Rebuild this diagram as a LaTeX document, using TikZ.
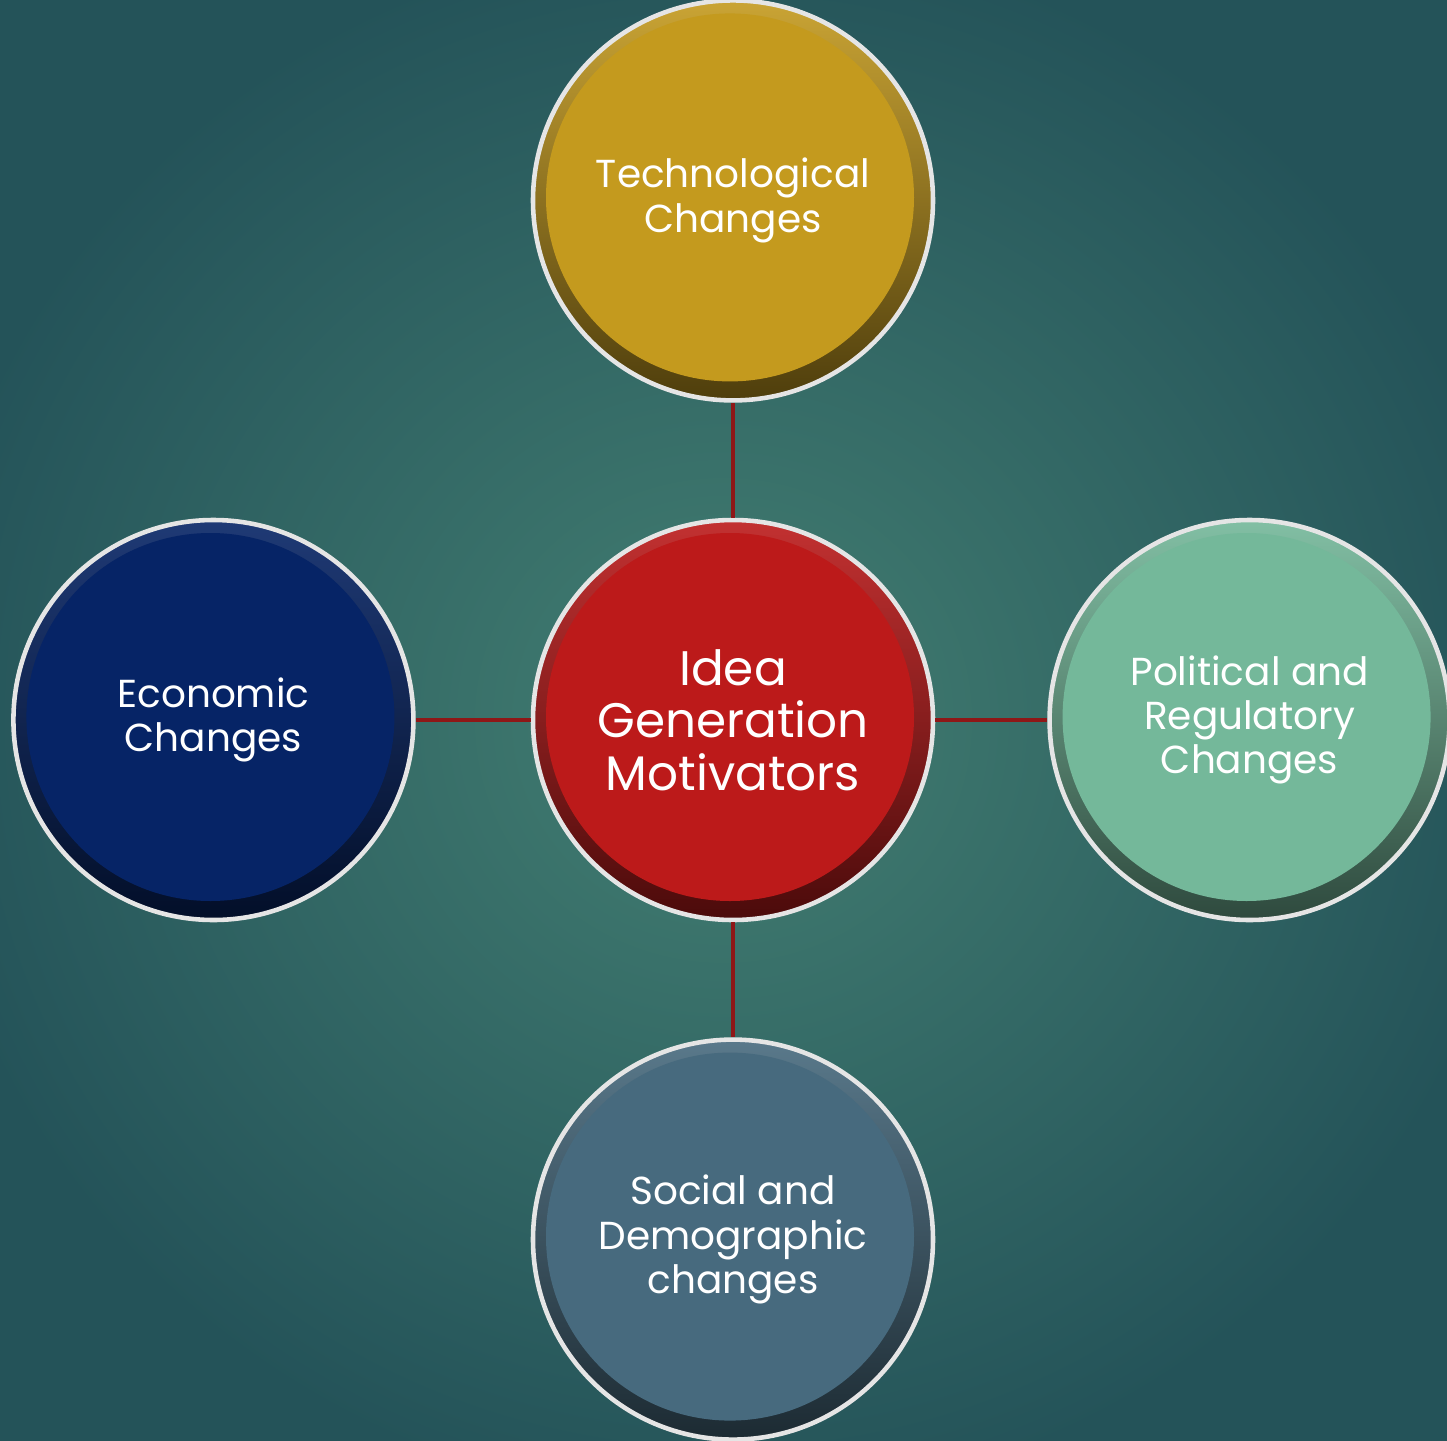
\documentclass[tikz,border=0pt]{standalone}
\usepackage{fontspec}
\setmainfont{Poppins}
\usetikzlibrary{positioning}

\definecolor{bgmid}{HTML}{437F72}
\definecolor{bgedge}{HTML}{245359}
\definecolor{linkred}{HTML}{8E1717}
\definecolor{ideared}{HTML}{BC1A1A}
\definecolor{techgold}{HTML}{C49A1E}
\definecolor{econavy}{HTML}{062466}
\definecolor{polmint}{HTML}{74B89A}
\definecolor{socslate}{HTML}{476A7E}

\begin{document}
\begin{tikzpicture}[node distance=1.15cm,
		bubble/.style={circle, minimum size=4cm, inner sep=0pt, align=center, text=white,
			draw=white!80!gray, line width=1.3pt, shading=axis, shading angle=45,
			top color=#1!90!white, bottom color=#1!40!black,
			path picture={\fill[#1] ([shift={(-0.03,0.03)}]path picture bounding box.center) circle (1.84cm);},
			font=\fontsize{11.1}{12.6}\selectfont},
		link/.style={draw=linkred, line width=1.1pt}]
		\useasboundingbox (-7.33,7.20) rectangle (7.14,-7.20);
		\shade[inner color=bgmid, outer color=bgedge] (-8.2,7.9) rectangle (8.0,-7.9);

		\node [bubble=ideared, font=\fontsize{13.8}{14.9}\selectfont] (idea) {Idea\\Generation\\Motivators};
		\node [bubble=techgold, above=of idea] (tech) {Technological\\Changes};
		\node [bubble=econavy, left=of idea] (econ) {Economic\\Changes};
		\node [bubble=polmint, right=1.12cm of idea] (pol) {Political and\\Regulatory\\Changes};
		\node [bubble=socslate, below=of idea] (soc) {Social and\\Demographic\\changes};

		\path[link] (idea) edge (tech);
		\path[link] (idea) edge (econ);
		\path[link] (idea) edge (pol);
		\path[link] (idea) edge (soc);
	\end{tikzpicture}
\end{document}
